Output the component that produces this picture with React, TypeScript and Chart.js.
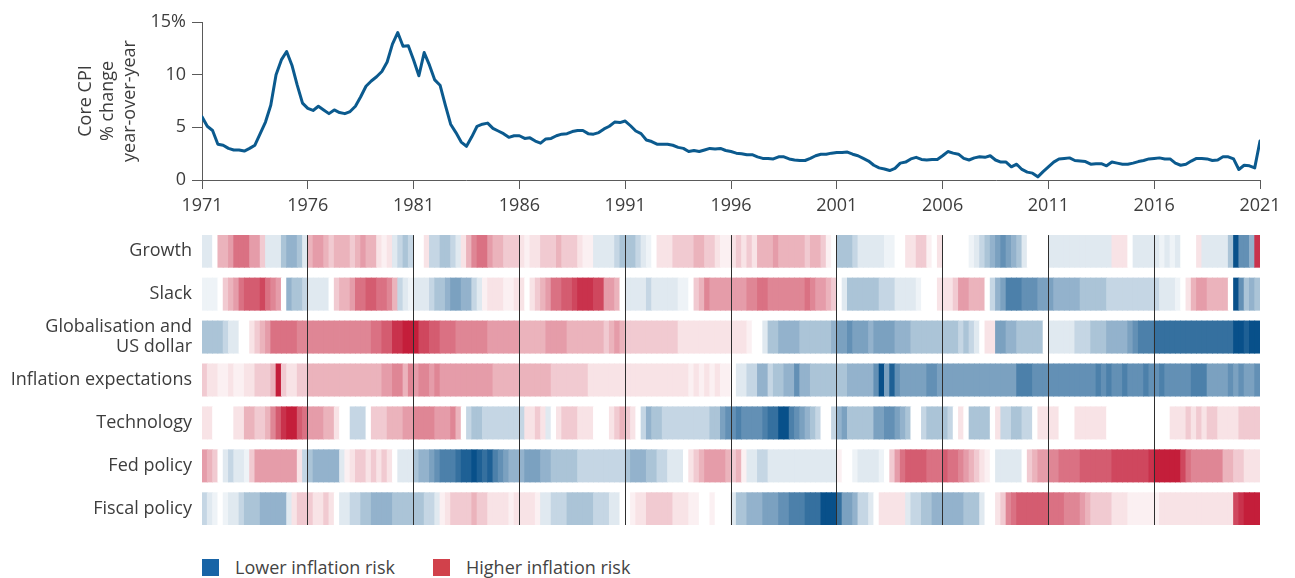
import React, { useEffect, useRef } from "react";
import { Chart, registerables } from "chart.js";

Chart.register(...registerables);

// ---------------- DATA ----------------
const START_YEAR = 1971;
const END_YEAR = 2021;
const yearTicks = [1971, 1976, 1981, 1986, 1991, 1996, 2001, 2006, 2011, 2016, 2021];
const cpiTicks = [0, 5, 10, 15];
const yTitle = ["Core CPI", "% change", "year-over-year"];

// Core CPI % change year-over-year, quarterly from 1971 Q1 to 2021 Q1
const coreCpi = [
  6.0, 5.1, 4.7, 3.4, 3.3, 3.0, 2.85, 2.85, 2.75, 3.0,
  3.3, 4.4, 5.5, 7.1, 10.0, 11.4, 12.2, 10.9, 9.0, 7.3,
  6.8, 6.6, 7.0, 6.65, 6.3, 6.65, 6.4, 6.3, 6.5, 7.0,
  7.9, 8.9, 9.4, 9.8, 10.3, 11.2, 12.9, 14.0, 12.7, 12.75,
  11.4, 9.9, 12.1, 10.9, 9.5, 9.0, 7.1, 5.3, 4.5, 3.6,
  3.2, 4.1, 5.1, 5.3, 5.4, 4.9, 4.65, 4.4, 4.05, 4.2,
  4.2, 3.95, 4.0, 3.7, 3.5, 3.9, 3.95, 4.2, 4.35, 4.4,
  4.6, 4.7, 4.7, 4.4, 4.35, 4.5, 4.85, 5.1, 5.5, 5.45,
  5.6, 5.15, 4.65, 4.4, 3.8, 3.65, 3.4, 3.4, 3.4, 3.3,
  3.1, 3.0, 2.7, 2.8, 2.7, 2.85, 3.0, 2.95, 3.0, 2.8,
  2.7, 2.55, 2.5, 2.4, 2.4, 2.2, 2.05, 2.05, 2.0, 2.2,
  2.2, 2.0, 1.9, 1.85, 1.85, 2.05, 2.3, 2.45, 2.45, 2.55,
  2.6, 2.6, 2.65, 2.45, 2.3, 2.05, 1.8, 1.4, 1.15, 1.05,
  0.9, 1.1, 1.6, 1.7, 2.0, 2.15, 1.95, 1.9, 1.95, 1.95,
  2.3, 2.7, 2.55, 2.45, 2.05, 1.9, 2.1, 2.2, 2.15, 2.3,
  1.9, 1.7, 1.7, 1.25, 1.5, 1.0, 0.75, 0.65, 0.3, 0.8,
  1.25, 1.7, 2.0, 2.05, 2.1, 1.85, 1.8, 1.75, 1.5, 1.55,
  1.55, 1.35, 1.7, 1.6, 1.5, 1.5, 1.6, 1.75, 1.85, 2.0,
  2.05, 2.1, 2.0, 2.0, 1.6, 1.4, 1.5, 1.8, 2.05, 2.05,
  2.0, 1.85, 1.9, 2.2, 2.2, 2.0, 1.0, 1.4, 1.35, 1.15,
  3.7,
];

const rowLabels: (string | string[])[] = [
  "Growth",
  "Slack",
  ["Globalisation and", "US dollar"],
  "Inflation expectations",
  "Technology",
  "Fed policy",
  "Fiscal policy",
];

// Inflation-risk level per quarter (1971 Q1 .. 2020 Q4): -10 = lowest risk (blue), +10 = highest (red)
const growth = [
  -1, -1, 0, 3, 3, 4, 6, 6, 6, 4,
  4, 2, -1, -1, -1, -3, -4, -4, -3, -1,
  3, 4, 4, 3, 2, 3, 3, 3, 2, 3,
  4, 3, 3, 1, 0.5, 1, -1, -2, -3, -2,
  0, 0, 1, -2, -2, -3, -3, -2, -1, 1,
  3, 5, 6, 6, 4, 3, 3, 2, 2, 2,
  1, 0.5, 1, 1, 2, 2, 2, 3, 2, 2,
  2, 1, 0.5, 0.5, -1, -1, -1, -1, -2, -3,
  -3, -3, -2, -1, -0.5, 0, 1, 1, 1, 2,
  2, 2, 2, 3, 3, 2, 2, 1, 0.5, 0.5,
  1, 2, 1, 2, 1, 3, 3, 3, 4, 3,
  3, 3, 3, 3, 2, 3, 3, 2, 0.5, 0,
  -3, -3, -3, -2, -1, -1, -1, -1, -1, -0.5,
  -0.5, 0, 0, 1, 1, 2, 2, 0.5, 0, 1,
  0, 0, 0, 0, 0, -0.5, -1, -2, -3, -4,
  -5, -6, -5, -4, -3, -1, 0, 0, 0, 0,
  -1, -1, -1, -1, -1, -1, -1, -1, -1, -1,
  -1, -1, 1, 1, 1, 0, -1, -1, -1, -1,
  -1, -0.5, -1, -0.5, -1, 0, 0, 0, 1, -1,
  -1, -1, -1, -1, -3, -10, -6, -6, -4, 9,
];

const slack = [
  -0.5, -0.5, -0.5, 0, 2, 3, 4, 6, 7, 7,
  7, 8, 6, 5, 4, 0, -4, -3, -3, -2,
  -1, -1, -1, -1, 0, 2, 3, 3, 4, 6,
  6, 7, 7, 6, 6, 5, 3, -2, -1, -0.5,
  -1, -1, -1, -2, -3, -3, -4, -5, -5, -4,
  -4, -2, -1, 0.5, 1, 1, 1, 0.5, 0.5, 1,
  1, 0, 1, 2, 3, 4, 6, 6, 7, 7,
  8, 9, 9, 9, 8, 8, 4, 4, 3, 0,
  -1, -1, -1, -1, -2, -1, -1, -1, -1, -1,
  -0.5, -0.5, 0, 2, 3, 5, 4, 4, 4, 4,
  4, 4, 4, 5, 5, 6, 6, 5, 5, 5,
  5, 5, 5, 5, 6, 5, 4, 4, 3, 2,
  0, -1, -3, -3, -3, -3, -3, -3, -2, -2,
  -2, -1, -1, -1, -1, -0.5, 0, 0, 0, 1,
  1, 1, 2, 4, 4, 3, 3, 3, 0, -2,
  -4, -5, -7, -7, -7, -6, -6, -6, -5, -5,
  -5, -4, -4, -4, -4, -4, -3, -3, -3, -3,
  -3, -2, -2, -2, -2, -2, -2, -2, -2, -2,
  -2, -1, -1, -1, -0.5, 0, 1, 3, 4, 4,
  3, 3, 3, 3, 0, -10, -6, -3, -4, -3,
];

const globalisation = [
  -3, -3, -3, -3, -2, -1, -1, 0, 0, 1,
  2, 3, 4, 6, 6, 6, 6, 6, 5, 5,
  5, 5, 5, 5, 5, 5, 5, 5, 5, 5,
  5, 5, 6, 6, 7, 7, 9, 9, 10, 10,
  10, 8, 8, 7, 7, 6, 6, 6, 5, 5,
  5, 5, 5, 5, 4, 4, 4, 4, 4, 4,
  3, 3, 3, 3, 3, 4, 4, 4, 4, 3,
  3, 3, 3, 3, 3, 3, 2, 3, 4, 3,
  2, 2, 2, 2, 2, 2, 2, 2, 2, 2,
  1, 1, 1, 1, 1, 1, 1, 1, 1, 1,
  1, 1, 1, 0.5, 0, 0, -1, -3, -3, -4,
  -4, -4, -4, -3, -3, -3, -3, -3, -3, -4,
  -5, -5, -6, -5, -5, -5, -4, -5, -5, -5,
  -5, -4, -4, -4, -3, -3, -3, -3, -3, -3,
  -3, -3, -3, -2, -3, -2, -1, 0, 1, 1,
  -5, -5, -4, -4, -3, -3, -3, -3, -3, 0,
  -1, -1, -1, -1, -1, -2, -2, -2, -3, -3,
  -3, -4, -4, -4, -4, -5, -6, -7, -7, -7,
  -8, -8, -8, -8, -8, -8, -8, -8, -8, -8,
  -8, -8, -8, -8, -8, -10, -10, -9, -10, -10,
];

const inflationExpectations = [
  2, 1, 1, 0.5, 0.5, 1, 0.5, 0.5, 1, 1,
  2, 2, 2, 3, 10, 2, 1, 1, 2, 2,
  3, 3, 3, 3, 3, 3, 3, 3, 3, 3,
  3, 3, 3, 3, 4, 4, 5, 5, 3, 5,
  4, 5, 5, 4, 5, 4, 4, 4, 4, 4,
  4, 4, 4, 4, 4, 3, 3, 3, 3, 3,
  3, 3, 3, 3, 3, 3, 2, 2, 2, 2,
  2, 2, 2, 1, 1, 1, 1, 1, 1, 1,
  1, 1, 1, 1, 1, 1, 1, 1, 1, 1,
  1, 1, 0.5, 1, 0.5, 1, 0.5, 1, 0.5, 0.5,
  0, -1, -1, -2, -2, -4, -4, -2, -3, -3,
  -4, -4, -6, -4, -4, -3, -3, -3, -3, -3,
  -3, -3, -4, -4, -4, -4, -4, -6, -10, -5,
  -9, -6, -5, -5, -5, -5, -5, -6, -6, -5,
  -5, -5, -5, -5, -5, -5, -5, -5, -5, -5,
  -5, -5, -5, -5, -7, -7, -7, -6, -6, -6,
  -6, -6, -6, -6, -6, -6, -6, -6, -6, -7,
  -6, -7, -6, -6, -7, -6, -6, -6, -7, -6,
  -6, -7, -6, -6, -6, -6, -6, -7, -7, -7,
  -5, -5, -5, -5, -6, -5, -6, -5, -5, -6,
];

const technology = [
  1, 1, 0, 0, 0, 0, 1, 1, 3, 3,
  2, 2, 3, 5, 7, 9, 10, 10, 7, 6,
  4, 4, 4, 3, 3, 1, 0, 0, -2, -2,
  -2, 0, 2, 2, 2, 3, 3, 3, 4, 4,
  5, 5, 5, 5, 4, 4, 4, 5, 3, 0,
  -2, -3, -3, -2, -2, -2, -2, -2, -2, -2,
  -2, 1, 1, 2, 1, -1, 0, 1, 2, 2,
  2, 1, 1, 1, 0, 0, 0, 1, 2, 3,
  2, 1, 0, -2, -4, -3, -3, -2, -2, -2,
  -2, -2, -2, -2, -2, -2, -3, -3, -5, -6,
  -6, -7, -6, -6, -6, -6, -7, -8, -8, -10,
  -10, -7, -6, -5, -4, -3, -2, 0, 0, -2,
  -4, -5, -3, -3, -3, -3, -3, -5, -5, -6,
  -6, -5, -4, -3, 0, 0, -2, -3, -3, -3,
  -3, -2, 0, 1, 0, -3, -3, -3, -3, 0,
  1, -2, -2, -3, -3, -2, -2, 0, 1, 1,
  1, 1, 0, 0, 0, 1, 1, 1, 1, 1,
  1, 0, 0, 0, 0, 0, 0, 0, 0, 0,
  0, 0, 0, 1, 1, 1, 2, 1, 2, 1,
  2, 2, 1, 1, 1, 1, 2, 2, 2, 2,
];

const fedPolicy = [
  4, 3, 2, 0, -1, -2, -1, -1, -0.5, 2,
  4, 4, 4, 4, 4, 4, 4, 4, 1, -2,
  -3, -4, -4, -4, -4, -4, -1, 0.5, 1, 2,
  2, 1, 2, 1, 2, 1, 0, -1, -1, -1,
  -3, -4, -4, -5, -6, -7, -7, -7, -8, -9,
  -9, -10, -9, -8, -9, -7, -6, -5, -4, -4,
  -4, -5, -5, -5, -4, -4, -3, -3, -3, -3,
  -3, -2, -2, -2, -2, -2, -2, -2, -2, -2,
  -3, -4, -4, -4, -3, -3, -2, -2, -1, -1,
  -1, 0, 1, 2, 3, 4, 4, 4, 4, 3,
  2, 3, 0.5, -1, -1, -2, -2, -1, -1, -1,
  -1, -1, -1, -1, -1, -1, -1, -1, -1, -1,
  0.5, 0, 0, -0.5, -1, -1, -1, -1, -0.5, 0,
  2, 4, 6, 7, 7, 7, 7, 6, 6, 6,
  7, 6, 6, 5, 4, 3, 2, 1, 0.5, 0,
  -1, -1, -1, -1, -1, 0, 2, 3, 4, 4,
  5, 5, 6, 6, 6, 6, 7, 7, 7, 7,
  7, 7, 8, 8, 8, 8, 8, 8, 8, 9,
  10, 10, 10, 10, 10, 8, 6, 5, 5, 5,
  5, 5, 5, 3, 3, 2, 2, 1, 1, 1,
];

const fiscalPolicy = [
  -2, -1, -0.5, 0, -0.5, -1, -1, -2, -3, -3,
  -3, -4, -4, -4, -4, -4, -1, 1, 2, 2,
  2, 1, 1, 2, 1, 0, -1, -1, -2, -2,
  -3, -3, -4, -4, -4, -4, -3, -3, -3, -3,
  -3, -3, -2, -2, -1, 0.5, 1, 2, 2, 2,
  2, 3, 2, 2, 1, 1, 1, 1, 0.5, 1,
  1, 1, 1, 0.5, -1, -1, -2, -2, -2, -3,
  -3, -3, -3, -3, -2, -2, -2, -1, -1, 0,
  0, 0.5, 1, 1, 2, 2, 2, 2, 2, 1,
  1, 1, 0.5, 0.5, 0, 0, 0.5, 0, 0, 0,
  -1, -3, -3, -4, -4, -4, -5, -5, -5, -6,
  -6, -7, -7, -7, -8, -8, -8, -10, -10, -10,
  -8, -5, -5, -4, -2, -2, -1, 0, 1, 1,
  1, 1, 1, -1, -2, -2, -3, -3, -4, -4,
  -4, -4, -4, -4, -3, -3, -3, -1, 0, 0,
  1, 2, 5, 6, 7, 7, 7, 7, 7, 7,
  6, 6, 6, 5, 5, 5, 4, 3, 2, 2,
  2, 2, 1, 1, 1, 0.5, 0.5, 0.5, 0.5, 0.5,
  0.5, 1, 1, 1, 1, 1, 1, 1, 1, 1,
  1, 1, 1, 1, 1, 8, 9, 10, 10, 10,
];

const legendItems = [
  { label: "Lower inflation risk", color: "#1864a6" },
  { label: "Higher inflation risk", color: "#d1414b" },
];

// ---------------- STYLE ----------------
const FONT = '"Open Sans", "DejaVu Sans", sans-serif';
const TEXT = "#3d3d3d";
const AXIS = "#5a5a5a";
const LINE = "#0b5a8e";
const BLUE_END = [8, 80, 138];
const RED_END = [196, 30, 58];

function cellColor(level: number): string {
  if (!level) return "#ffffff";
  const t = Math.pow(Math.min(1, Math.abs(level) / 10), 0.9);
  const c = level > 0 ? RED_END : BLUE_END;
  const m = (k: number) => Math.round(255 + (c[k] - 255) * t);
  return `rgb(${m(0)},${m(1)},${m(2)})`;
}

export default function App() {
  const topRef = useRef<HTMLCanvasElement>(null);
  const botRef = useRef<HTMLCanvasElement>(null);

  useEffect(() => {
    const font = { family: FONT, size: 18 };

    const top = new Chart(topRef.current as HTMLCanvasElement, {
      type: "line",
      data: {
        datasets: [
          {
            label: "Core CPI",
            data: coreCpi.map((v, i) => ({ x: START_YEAR + i / 4, y: v })),
            borderColor: LINE,
            borderWidth: 3,
            pointRadius: 0,
            tension: 0,
            fill: false,
            borderJoinStyle: "round",
            borderCapStyle: "round",
          },
        ],
      },
      options: {
        responsive: false,
        animation: false,
        layout: { padding: { top: 22, right: 35, left: 0, bottom: 0 } },
        plugins: { legend: { display: false }, tooltip: { enabled: false } },
        scales: {
          x: {
            type: "linear",
            min: START_YEAR,
            max: END_YEAR,
            afterBuildTicks: (s: any) => {
              s.ticks = yearTicks.map((v) => ({ value: v }));
            },
            afterFit: (s: any) => {
              s.height = 35;
            },
            grid: { drawOnChartArea: false, drawTicks: true, tickLength: 9, color: AXIS },
            border: { display: true, color: AXIS },
            ticks: {
              font,
              color: TEXT,
              padding: 6,
              maxRotation: 0,
              autoSkip: false,
              callback: (v: any) => String(v),
            },
          },
          y: {
            type: "linear",
            min: 0,
            max: 15,
            afterBuildTicks: (s: any) => {
              s.ticks = cpiTicks.map((v) => ({ value: v }));
            },
            afterFit: (s: any) => {
              s.width = 202;
            },
            grid: { drawOnChartArea: false, drawTicks: true, tickLength: 10, color: AXIS },
            border: { display: true, color: AXIS },
            ticks: {
              font,
              color: TEXT,
              padding: 6,
              autoSkip: false,
              callback: (v: any) => (v === 15 ? "15%" : String(v)),
            },
            title: {
              display: true,
              text: yTitle,
              color: TEXT,
              font: { family: FONT, size: 18, lineHeight: 1.22 },
              padding: { top: 75, bottom: 0 },
            },
          },
        },
      },
    } as any);

    const rows = [growth, slack, globalisation, inflationExpectations, technology, fedPolicy, fiscalPolicy];
    const cells: { x: number[]; y: number; v: number }[] = [];
    rows.forEach((vals, r) =>
      vals.forEach((v, i) =>
        cells.push({ x: [START_YEAR + i / 4, START_YEAR + (i + 1) / 4], y: r, v })
      )
    );

    const bot = new Chart(botRef.current as HTMLCanvasElement, {
      type: "bar",
      data: {
        datasets: [
          {
            label: "Inflation risk",
            data: cells,
            backgroundColor: (ctx: any) => cellColor(ctx.raw ? ctx.raw.v : 0),
            borderWidth: 0,
            barPercentage: 0.75,
            categoryPercentage: 1,
            inflateAmount: 0.4,
          },
        ],
      },
      options: {
        indexAxis: "y",
        responsive: false,
        animation: false,
        layout: { padding: { top: 15, bottom: 18, right: 35, left: 0 } },
        plugins: { legend: { display: false }, tooltip: { enabled: false } },
        scales: {
          x: {
            type: "linear",
            position: "bottom",
            min: START_YEAR,
            max: END_YEAR,
            offset: false,
            afterBuildTicks: (s: any) => {
              s.ticks = yearTicks.map((v) => ({ value: v }));
            },
            afterFit: (s: any) => {
              s.height = 0;
            },
            ticks: { display: false },
            grid: {
              z: 1,
              drawTicks: false,
              lineWidth: 1,
              color: (ctx: any) =>
                ctx.tick && (ctx.tick.value === START_YEAR || ctx.tick.value === END_YEAR)
                  ? "rgba(0,0,0,0)"
                  : "#2e2e2e",
            },
            border: { display: false },
          },
          y: {
            type: "linear",
            reverse: true,
            offset: false,
            min: -0.375,
            max: rowLabels.length - 1 + 0.375,
            afterBuildTicks: (s: any) => {
              s.ticks = rowLabels.map((_, i) => ({ value: i }));
            },
            afterFit: (s: any) => {
              s.width = 202;
            },
            grid: { display: false, drawTicks: false, offset: false },
            border: { display: false },
            ticks: {
              font: { family: FONT, size: 18, lineHeight: 1.12 },
              color: TEXT,
              padding: 10,
              autoSkip: false,
              callback: (v: any) => rowLabels[Math.round(v)] ?? "",
            },
          },
        },
      },
    } as any);

    return () => {
      top.destroy();
      bot.destroy();
    };
  }, []);

  return (
    <div
      style={{
        position: "absolute",
        left: 0,
        top: 0,
        width: 1295,
        height: 578,
        background: "#ffffff",
        fontFamily: FONT,
      }}
    >
      <canvas
        ref={topRef}
        width={1295}
        height={215}
        style={{ position: "absolute", left: 0, top: 0, display: "block" }}
      />
      <canvas
        ref={botRef}
        width={1295}
        height={330}
        style={{ position: "absolute", left: 0, top: 215, display: "block" }}
      />
      {legendItems.map((it, k) => (
        <div
          key={it.label}
          style={{
            position: "absolute",
            left: k === 0 ? 202 : 433,
            top: 557,
            height: 20,
            display: "flex",
            alignItems: "center",
            fontSize: 18,
            color: "#444",
            whiteSpace: "nowrap",
          }}
        >
          <span
            style={{
              display: "inline-block",
              width: 17,
              height: 17,
              background: it.color,
              marginRight: 16,
            }}
          />
          <span>{it.label}</span>
        </div>
      ))}
    </div>
  );
}
